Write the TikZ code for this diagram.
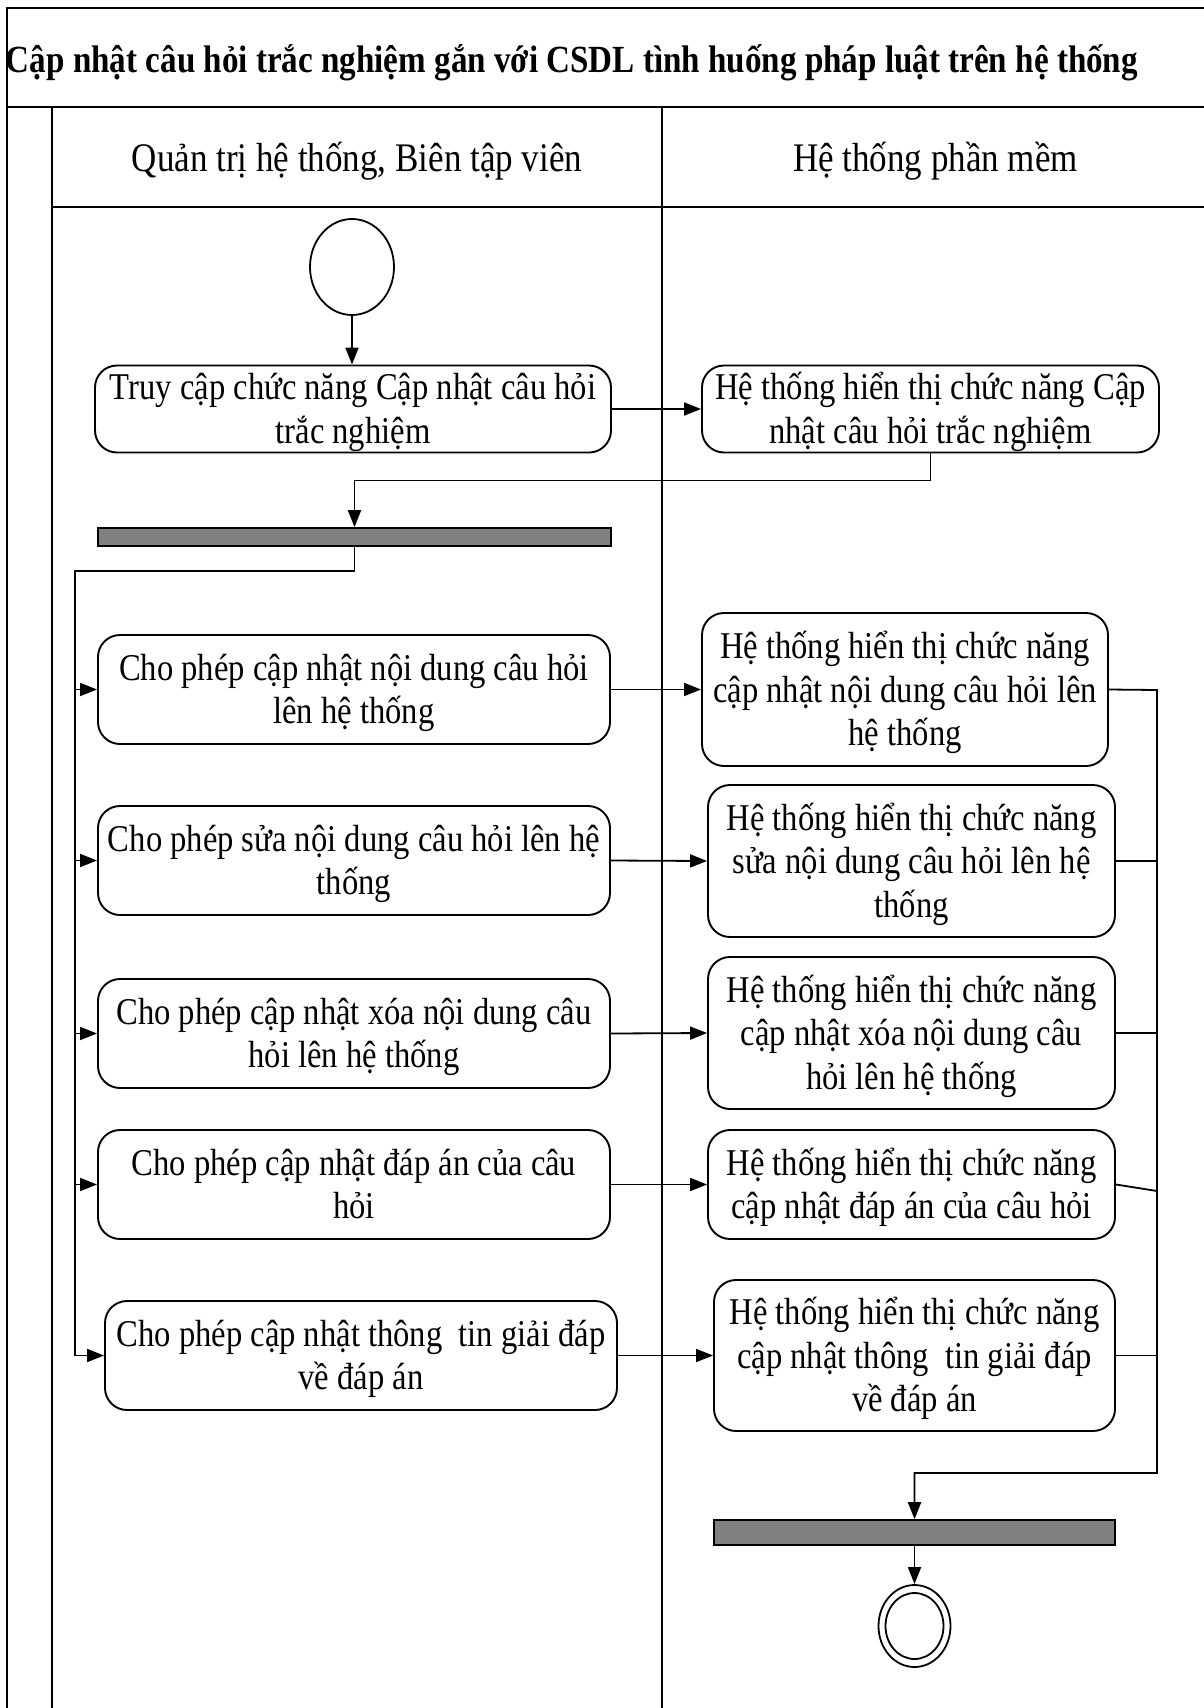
\documentclass[tikz,border=0pt]{standalone}
\usepackage{fontspec}
\setmainfont{Liberation Serif}
\usepackage{graphicx}
\usetikzlibrary{arrows.meta,shapes.geometric}
\definecolor{barfill}{HTML}{808080}
\newcommand\vtxt[1]{\raisebox{-4pt}[\height][\depth]{\scalebox{1}[1.16]{\begin{tabular}{@{}c@{}}#1\end{tabular}}}}
\begin{document}
\begin{tikzpicture}[x=1pt,y=-1pt,
  frame/.style={line width=2pt},
  lane/.style={line width=1.8pt},
  act/.style={draw, line width=1.9pt, rounded corners=22pt, inner sep=0pt,
    font=\fontsize{32.6}{37.5}\selectfont},
  bar/.style={draw, fill=barfill, line width=1.6pt, inner sep=0pt},
  conn/.style={line width=1.8pt},
  flow/.style={line width=1.8pt, -{Triangle[length=17pt,width=13pt]}},
  hdr/.style={anchor=base, inner sep=0pt, font=\fontsize{35}{40}\selectfont}
]
\useasboundingbox (0,0) rectangle (1203,1708);
\fill[white] (0,0) rectangle (1203,1708);
% frame and lanes
\draw[frame] (1215,7.5) -- (6.5,7.5) -- (6.5,1720);
\draw[frame] (6.5,107) -- (1215,107);
\draw[lane] (52,107) -- (52,1720);
\draw[lane] (662,107) -- (662,1720);
\draw[lane] (52,207) -- (1215,207);
% title and lane headers
\node[anchor=base, inner sep=0pt, font=\bfseries\fontsize{33.1}{38}\selectfont] (title) at (572,72)
  {\scalebox{1}[1.16]{Cập nhật câu hỏi trắc nghiệm gắn với CSDL tình huống pháp luật trên hệ thống}};
\node[hdr] (h1) at (357,171) {\scalebox{1}[1.16]{Quản trị hệ thống, Biên tập viên}};
\node[hdr] (h2) at (935.5,171) {\scalebox{1}[1.16]{Hệ thống phần mềm}};
% start
\node[ellipse, draw, line width=1.8pt, minimum width=84pt, minimum height=96pt, inner sep=0pt] (start) at (352,267) {};
% activities
\node[act, minimum width=516pt, minimum height=86pt] (n1) at (353,409) {\vtxt{Truy cập chức năng Cập nhật câu hỏi\\trắc nghiệm}};
\node[act, minimum width=457pt, minimum height=86pt] (r1) at (930.5,409) {\vtxt{Hệ thống hiển thị chức năng Cập\\nhật câu hỏi trắc nghiệm}};
\node[bar, minimum width=513pt, minimum height=18pt] (bar1) at (354.5,537) {};
\node[act, minimum width=512pt, minimum height=109pt] (L2) at (354,689.5) {\vtxt{Cho phép cập nhật nội dung câu hỏi\\lên hệ thống}};
\node[act, minimum width=512pt, minimum height=109pt] (L3) at (354,860.5) {\vtxt{Cho phép sửa nội dung câu hỏi lên hệ\\thống}};
\node[act, minimum width=512pt, minimum height=109pt] (L4) at (354,1033.5) {\vtxt{Cho phép cập nhật xóa nội dung câu\\hỏi lên hệ thống}};
\node[act, minimum width=512pt, minimum height=109pt] (L5) at (354,1184.5) {\vtxt{Cho phép cập nhật đáp án của câu\\hỏi}};
\node[act, minimum width=512pt, minimum height=109pt] (L6) at (361,1355.5) {\vtxt{Cho phép cập nhật thông\ \ tin giải đáp\\về đáp án}};
\node[act, minimum width=406pt, minimum height=153pt] (R2) at (905,689.5) {\vtxt{Hệ thống hiển thị chức năng\\cập nhật nội dung câu hỏi lên\\hệ thống}};
\node[act, minimum width=407pt, minimum height=152pt] (R3) at (911.5,861) {\vtxt{Hệ thống hiển thị chức năng\\sửa nội dung câu hỏi lên hệ\\thống}};
\node[act, minimum width=407pt, minimum height=152pt] (R4) at (911.5,1033) {\vtxt{Hệ thống hiển thị chức năng\\cập nhật xóa nội dung câu\\hỏi lên hệ thống}};
\node[act, minimum width=407pt, minimum height=109pt] (R5) at (911.5,1184.5) {\vtxt{Hệ thống hiển thị chức năng\\cập nhật đáp án của câu hỏi}};
\node[act, minimum width=401pt, minimum height=151pt] (R6) at (914.5,1355.5) {\vtxt{Hệ thống hiển thị chức năng\\cập nhật thông\ \ tin giải đáp\\về đáp án}};
\node[bar, minimum width=401pt, minimum height=25pt] (bar2) at (914.5,1532.5) {};
% end
\node[ellipse, draw, line width=1.8pt, minimum width=72pt, minimum height=82pt, inner sep=0pt] (endo) at (914.5,1626) {};
\node[ellipse, draw, line width=1.8pt, minimum width=58pt, minimum height=66pt, inner sep=0pt] (endi) at (endo.center) {};
% helper coordinates
\coordinate (bus) at (75,571);
\coordinate (mrg) at (1157,690);
\coordinate (mrgb) at (1157,1473);
\coordinate (r5j) at (1157,1191);
% connectors
\draw[flow] (start.south) -- (start.south |- n1.north);
\draw[flow] (n1.east) -- (r1.west);
\draw[flow] (r1.south) -- ++(0,27) -| (bar1.north);
\draw[flow] (bar1.south) -- (bar1.south |- bus) -- (bus) -- (bus |- L6.west) -- (L6.west);
\draw[flow] (bus |- L2.west) -- (L2.west);
\draw[flow] (bus |- L3.west) -- (L3.west);
\draw[flow] (bus |- L4.west) -- (L4.west);
\draw[flow] (bus |- L5.west) -- (L5.west);
\draw[flow] (L2.east) -- (R2.west);
\draw[flow] (L3.east) -- (R3.west);
\draw[flow] (L4.east) -- (R4.west);
\draw[flow] (L5.east) -- (R5.west);
\draw[flow] (L6.east) -- (R6.west);
\draw[flow] (R2.east) -- (mrg) -- (mrgb) -| (bar2.north);
\draw[conn] (R3.east) -- (R3.east -| mrg);
\draw[conn] (R4.east) -- (R4.east -| mrg);
\draw[conn] (R5.east) -- (r5j);
\draw[conn] (R6.east) -- (R6.east -| mrg);
\draw[flow] (bar2.south) -- (endo.north);
\end{tikzpicture}
\end{document}
